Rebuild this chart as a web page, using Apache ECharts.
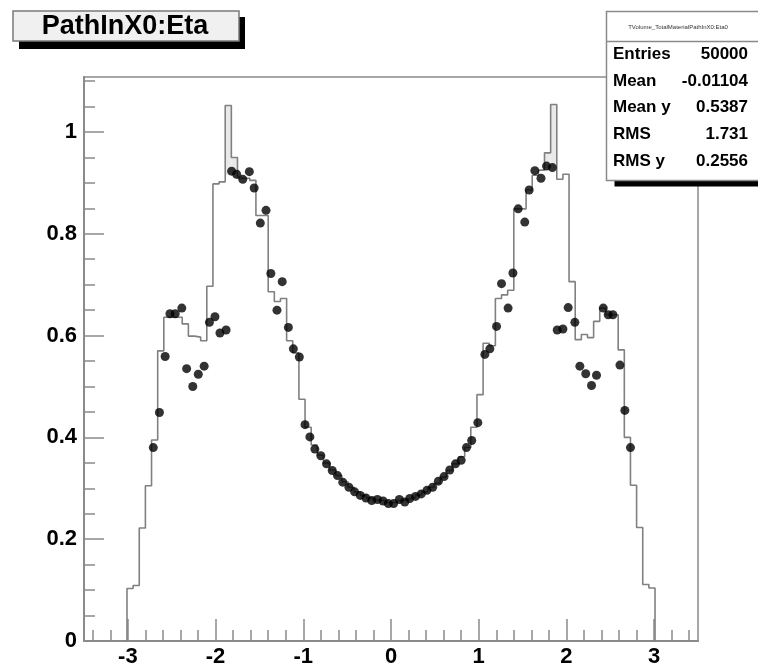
<!DOCTYPE html>
<html>
<head>
<meta charset="utf-8">
<script src="https://cdn.jsdelivr.net/npm/echarts@6/dist/echarts.min.js"></script>
<style>
  html, body { margin: 0; padding: 0; background: #fff; }
  #chart { width: 758px; height: 668px; }
</style>
</head>
<body>
<div id="chart"></div>
<script>
// Material path length in X0 versus pseudorapidity:
// a step histogram (0.07 wide bins) with the profile points drawn over it.

const histLo = -3.01;          // left edge of the first filled bin
const histBinWidth = 0.07;
const histValues = [
  0.103, 0.109, 0.222, 0.305, 0.395, 0.570, 0.636, 0.636, 0.636, 0.623,
  0.599, 0.597, 0.590, 0.697, 0.898, 0.902, 1.052, 0.950, 0.909, 0.909,
  0.905, 0.836, 0.836, 0.686, 0.667, 0.673, 0.590, 0.566, 0.475, 0.420,
  0.385, 0.365, 0.350, 0.336, 0.325, 0.313, 0.302, 0.293, 0.286, 0.281,
  0.277, 0.276, 0.272, 0.272, 0.276, 0.279, 0.282, 0.287, 0.293, 0.302,
  0.310, 0.322, 0.335, 0.348, 0.362, 0.380, 0.420, 0.484, 0.585, 0.580,
  0.673, 0.680, 0.689, 0.849, 0.849, 0.886, 0.915, 0.925, 0.959, 1.054,
  0.907, 0.917, 0.706, 0.592, 0.602, 0.596, 0.628, 0.654, 0.641, 0.641,
  0.572, 0.400, 0.306, 0.223, 0.111, 0.104
];

// Profile points: eta position and mean path length
const profileEta = [
  -2.71, -2.64, -2.575, -2.52, -2.46, -2.385, -2.33, -2.26, -2.197, -2.13,
  -2.07, -2.007, -1.95, -1.88, -1.817, -1.76, -1.69, -1.615, -1.56, -1.49,
  -1.425, -1.37, -1.30, -1.24, -1.17, -1.113, -1.045, -0.98, -0.925, -0.868,
  -0.80, -0.735, -0.67, -0.61, -0.55, -0.48, -0.415, -0.35, -0.285, -0.22,
  -0.155, -0.09, -0.03, 0.03, 0.095, 0.157, 0.214, 0.28, 0.345, 0.41,
  0.475, 0.54, 0.605, 0.67, 0.735, 0.80, 0.86, 0.92, 0.99,
  1.07, 1.127, 1.203, 1.26, 1.335, 1.39, 1.45, 1.525, 1.575, 1.64,
  1.71, 1.773, 1.84, 1.895, 1.96, 2.02, 2.096, 2.153, 2.22, 2.286,
  2.343, 2.42, 2.476, 2.53, 2.61, 2.666, 2.73
];
const profileValues = [
  0.380, 0.449, 0.559, 0.643, 0.643, 0.654, 0.535, 0.500, 0.524, 0.540,
  0.626, 0.637, 0.605, 0.611, 0.923, 0.917, 0.907, 0.922, 0.890, 0.821,
  0.846, 0.722, 0.650, 0.706, 0.616, 0.574, 0.558, 0.425, 0.401, 0.377,
  0.364, 0.348, 0.335, 0.325, 0.312, 0.302, 0.293, 0.286, 0.281, 0.276,
  0.278, 0.275, 0.270, 0.270, 0.278, 0.273, 0.280, 0.284, 0.289, 0.296,
  0.302, 0.314, 0.323, 0.336, 0.348, 0.355, 0.380, 0.394, 0.429,
  0.563, 0.574, 0.618, 0.702, 0.654, 0.723, 0.849, 0.823, 0.886, 0.924,
  0.909, 0.933, 0.930, 0.611, 0.613, 0.655, 0.626, 0.540, 0.525, 0.502,
  0.522, 0.654, 0.641, 0.641, 0.542, 0.453, 0.380
];

// Lightly shaded bands at the two spikes: [etaFrom, etaTo, yFrom, yTo]
const peakBands = [
  [-1.89, -1.82, 0.915, 1.052],
  [-1.82, -1.75, 0.915, 0.950],
  [1.75, 1.82, 0.930, 0.959],
  [1.82, 1.89, 0.930, 1.054]
];

const xMajorTicks = [-3, -2, -1, 0, 1, 2, 3];
const yMajorTicks = [0, 0.2, 0.4, 0.6, 0.8, 1];

const titleText = 'PathInX0:Eta';
const statsTitle = 'TVolume_TotalMaterialPathInX0:Eta0';
const statsLabels = ['Entries', 'Mean', 'Mean y', 'RMS', 'RMS y'];
const statsValues = ['50000', '-0.01104', '0.5387', '1.731', '0.2556'];

// ---- derived drawing data ----
const histLine = [[histLo, 0]];
histValues.forEach(function (v, i) {
  const a = histLo + i * histBinWidth;
  histLine.push([a, v], [a + histBinWidth, v]);
});
histLine.push([histLo + histValues.length * histBinWidth, 0]);

const profilePoints = profileEta.map(function (x, i) { return [x, profileValues[i]]; });

const xMinorTicks = [];
for (let i = -17; i <= 17; i++) { if (i % 5 !== 0) xMinorTicks.push(+(i * 0.2).toFixed(2)); }
const yMinorTicks = [];
for (let i = 0; i <= 22; i++) { if (i % 4 !== 0) yMinorTicks.push(+(i * 0.05).toFixed(2)); }

const FONT = '"Liberation Sans", Arial, Helvetica, sans-serif';
const AXIS_GRAY = '#8a8a8a';

const chart = echarts.init(document.getElementById('chart'), null, { renderer: 'canvas' });

const statsX = 606.5, statsY = 11.5, statsW = 160, statsH = 169;
const statsGraphics = [
  { type: 'rect', shape: { x: statsX + 8, y: statsY + 6, width: statsW, height: statsH }, style: { fill: '#000' }, z: 100 },
  { type: 'rect', shape: { x: statsX, y: statsY, width: statsW, height: statsH }, style: { fill: '#fff', stroke: '#8a8a8a', lineWidth: 1.5 }, z: 101 },
  { type: 'line', shape: { x1: statsX, y1: 41.5, x2: statsX + statsW, y2: 41.5 }, style: { stroke: '#8a8a8a', lineWidth: 1.5 }, z: 102 },
  { type: 'text', x: 678, y: 27, style: { text: statsTitle, font: '6px ' + FONT, fill: '#333', align: 'center', verticalAlign: 'middle' }, z: 102 }
];
const rowY = [54, 81, 107, 134, 161];
statsLabels.forEach(function (lab, i) {
  statsGraphics.push({ type: 'text', x: 613, y: rowY[i], style: { text: lab, font: 'bold 17px ' + FONT, fill: '#000', align: 'left', verticalAlign: 'middle' }, z: 102 });
  statsGraphics.push({ type: 'text', x: 748, y: rowY[i], style: { text: statsValues[i], font: 'bold 17px ' + FONT, fill: '#000', align: 'right', verticalAlign: 'middle' }, z: 102 });
});

const option = {
  animation: false,
  backgroundColor: '#fff',
  grid: { left: 84, right: 60, top: 77, bottom: 23, show: true, borderColor: AXIS_GRAY, borderWidth: 1.5, backgroundColor: 'transparent' },
  xAxis: [
    {
      type: 'value', min: -3.5, max: 3.5, position: 'bottom',
      axisLine: { show: true, onZero: false, lineStyle: { color: AXIS_GRAY, width: 2 } },
      axisTick: { show: true, inside: true, length: 22, customValues: xMajorTicks, lineStyle: { color: AXIS_GRAY, width: 1.5 } },
      axisLabel: { show: true, customValues: xMajorTicks, margin: 5, color: '#000', fontFamily: FONT, fontWeight: 'bold', fontSize: 22 },
      splitLine: { show: false }
    },
    {
      type: 'value', min: -3.5, max: 3.5, position: 'bottom', offset: 0,
      axisLine: { show: false, onZero: false },
      axisTick: { show: true, inside: true, length: 11, customValues: xMinorTicks, lineStyle: { color: AXIS_GRAY, width: 1.5 } },
      axisLabel: { show: false },
      splitLine: { show: false }
    }
  ],
  yAxis: [
    {
      type: 'value', min: 0, max: 1.108, position: 'left',
      axisLine: { show: true, onZero: false, lineStyle: { color: AXIS_GRAY, width: 2 } },
      axisTick: { show: true, inside: true, length: 20, customValues: yMajorTicks, lineStyle: { color: AXIS_GRAY, width: 1.5 } },
      axisLabel: { show: true, customValues: yMajorTicks, margin: 7, color: '#000', fontFamily: FONT, fontWeight: 'bold', fontSize: 22 },
      splitLine: { show: false }
    },
    {
      type: 'value', min: 0, max: 1.108, position: 'left', offset: 0,
      axisLine: { show: false, onZero: false },
      axisTick: { show: true, inside: true, length: 11, customValues: yMinorTicks, lineStyle: { color: AXIS_GRAY, width: 1.5 } },
      axisLabel: { show: false },
      splitLine: { show: false }
    }
  ],
  series: [
    {
      type: 'custom', xAxisIndex: 0, yAxisIndex: 0, silent: true, z: 1,
      encode: { x: [0, 1], y: [2, 3] },
      data: peakBands,
      renderItem: function (params, api) {
        const p0 = api.coord([api.value(0), api.value(3)]);
        const p1 = api.coord([api.value(1), api.value(2)]);
        return { type: 'rect', shape: { x: p0[0], y: p0[1], width: p1[0] - p0[0], height: p1[1] - p0[1] }, style: { fill: '#e9e9e9' } };
      }
    },
    {
      type: 'line', xAxisIndex: 0, yAxisIndex: 0, z: 2,
      data: histLine, showSymbol: false, symbol: 'none', silent: true,
      lineStyle: { color: '#808080', width: 1.6 }
    },
    {
      type: 'scatter', xAxisIndex: 0, yAxisIndex: 0, z: 3,
      data: profilePoints, symbol: 'circle', symbolSize: 9, silent: true,
      itemStyle: { color: '#000' }
    }
  ],
  graphic: [
    { type: 'rect', shape: { x: 19, y: 17, width: 226, height: 32 }, style: { fill: '#000' }, z: 100 },
    { type: 'rect', shape: { x: 13, y: 11, width: 226, height: 30 }, style: { fill: '#f0f0f0', stroke: '#7a7a7a', lineWidth: 1.5 }, z: 101 },
    { type: 'text', x: 125, y: 27, style: { text: titleText, font: 'bold 27px ' + FONT, fill: '#000', align: 'center', verticalAlign: 'middle' }, z: 102 }
  ].concat(statsGraphics)
};

chart.setOption(option);
</script>
</body>
</html>
